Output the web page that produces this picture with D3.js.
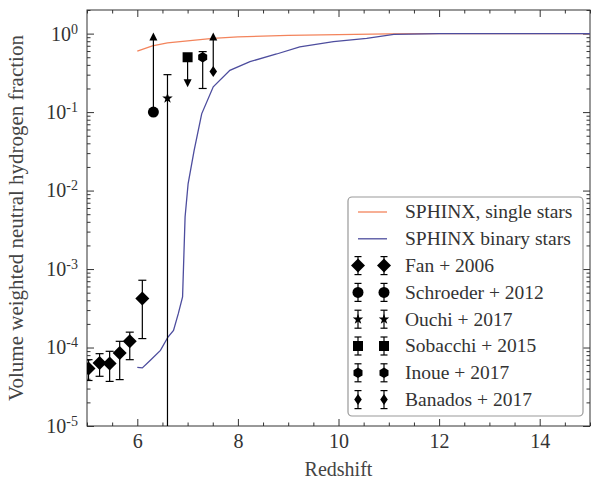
<!DOCTYPE html>
<html>
<head>
<meta charset="utf-8">
<script src="https://cdn.jsdelivr.net/npm/d3@7"></script>
<style>
  body { margin: 0; background: #fff; }
</style>
</head>
<body>
<div id="chart"></div>
<script>
// model curves
const singleZ = [6.0, 6.3, 6.6, 7.0, 7.5, 8.0, 9.0, 10.0, 11.0, 12.0, 13.0, 15.0];
const singleX = [0.60, 0.70, 0.76, 0.81, 0.87, 0.91, 0.95, 0.97, 0.99, 1.0, 1.0, 1.0];

const binaryZ = [6.0, 6.1, 6.26, 6.46, 6.61, 6.72, 6.815, 6.90, 6.95, 7.01, 7.13, 7.28, 7.51, 7.84, 8.24, 8.77, 9.23, 9.9, 10.56, 11.1, 12.0, 15.0];
const binaryX = [5.6e-5, 5.5e-5, 6.9e-5, 9.2e-5, 1.36e-4, 1.65e-4, 2.7e-4, 4.4e-4, 4.6e-3, 0.0122, 0.0325, 0.095, 0.21, 0.34, 0.44, 0.55, 0.68, 0.79, 0.87, 0.98, 1.0, 1.0];

// observations
const refNames = ['Fan + 2006', 'Schroeder + 2012', 'Ouchi + 2017', 'Sobacchi + 2015', 'Inoue + 2017', 'Banados + 2017'];
const refMarkers = ['D', 'o', '*', 's', 'h', 'd'];
const refZ  = [[5.03, 5.25, 5.45, 5.65, 5.85, 6.10], [6.32], [6.6], [7.0], [7.3], [7.51]];
const refX  = [[5.4e-5, 6.35e-5, 6.25e-5, 8.5e-5, 1.2e-4, 4.2e-4], [0.1], [0.15], [0.5], [0.5], [0.33]];
const refLo = [[3.8e-5, 4.3e-5, 3.7e-5, 3.9e-5, 7.0e-5, 1.3e-4], [null], [0], [null], [0.2], [null]];
const refHi = [[7.0e-5, 8.35e-5, 8.95e-5, 1.2e-4, 1.57e-4, 7.2e-4], [null], [0.30], [null], [0.59], [null]];
const refArrow = [null, 0.89, null, 0.24, null, 0.89]; // limits

const lineNames = ['SPHINX, single stars', 'SPHINX binary stars'];
const lineColors = ['#f3845c', '#4d4d9e'];

const xTicks = [6, 8, 10, 12, 14];
const yTicks = [1e-5, 1e-4, 1e-3, 1e-2, 1e-1, 1];

const FONT = '"Liberation Serif", "Times New Roman", serif';

const width = 592;
const height = 479;
const margin = {top: 10, right: 2, bottom: 53, left: 87};
const w = width - margin.left - margin.right;
const h = height - margin.top - margin.bottom;

const x = d3.scaleLinear().domain([5, 15]).range([0, w]);
const y = d3.scaleLog().domain([1e-5, 2]).range([h, 0]);
const yv = v => y(Math.max(v, 1e-7));

const xMinor = d3.range(5, 15.01, 0.5).filter(v => v % 2 !== 0);
let yMinor = [];
for (let e = -5; e <= 0; e++) for (let k = 2; k <= 9; k++) if (k * Math.pow(10, e) <= 2) yMinor.push(k * Math.pow(10, e));

const svg = d3.select('#chart').append('svg')
    .attr('width', width)
    .attr('height', height);

svg.append('defs').append('clipPath').attr('id', 'clip')
  .append('rect').attr('width', w).attr('height', h);

const g = svg.append('g').attr('transform', `translate(${margin.left},${margin.top})`);

// ticks, inward on all four sides
function tickAxes(axisFn, vals, size, pos) {
  const a = axisFn.tickValues(vals).tickSize(-size).tickFormat('');
  const sel = g.append('g').attr('transform', pos).call(a);
  sel.select('.domain').remove();
  sel.selectAll('line').attr('stroke', '#333');
  return sel;
}
tickAxes(d3.axisTop(x), xTicks, 7, 'translate(0,0)');
tickAxes(d3.axisTop(x), xMinor, 3.5, 'translate(0,0)');
tickAxes(d3.axisBottom(x), xMinor, 3.5, `translate(0,${h})`);
tickAxes(d3.axisRight(y), yTicks, 7, `translate(${w},0)`);
tickAxes(d3.axisRight(y), yMinor, 3.5, `translate(${w},0)`);
tickAxes(d3.axisLeft(y), yMinor, 3.5, 'translate(0,0)');

const xAxis = g.append('g').attr('transform', `translate(0,${h})`)
  .call(d3.axisBottom(x).tickValues(xTicks).tickSize(-7).tickPadding(8).tickFormat(d => d));
xAxis.select('.domain').remove();
xAxis.selectAll('line').attr('stroke', '#333');
xAxis.selectAll('text').attr('font-size', 20).attr('fill', '#333').style('font-family', FONT);

const yAxis = g.append('g')
  .call(d3.axisLeft(y).tickValues(yTicks).tickSize(-7).tickPadding(9).tickFormat(''));
yAxis.select('.domain').remove();
yAxis.selectAll('line').attr('stroke', '#333');
yAxis.selectAll('text').each(function(d) {
  const t = d3.select(this).attr('font-size', 20).attr('fill', '#333').style('font-family', FONT);
  t.append('tspan').text('10');
  t.append('tspan').attr('dy', '-7').attr('font-size', 14).text(Math.round(Math.log10(d)));
});

// frame
g.append('rect').attr('width', w).attr('height', h)
  .attr('fill', 'none').attr('stroke', '#333').attr('stroke-width', 1);

// axis labels
svg.append('text')
  .attr('x', margin.left + w / 2).attr('y', 476)
  .attr('text-anchor', 'middle').attr('font-size', 20).attr('fill', '#444')
  .style('font-family', FONT)
  .text('Redshift');
svg.append('text')
  .attr('transform', `translate(23,${margin.top + h / 2}) rotate(-90)`)
  .attr('text-anchor', 'middle').attr('font-size', 21).attr('fill', '#444')
  .style('font-family', FONT)
  .text('Volume weighted neutral hydrogen fraction');

// marker shapes
function markerPath(type) {
  const p = d3.path();
  if (type === 'D') { p.moveTo(0, -7); p.lineTo(7, 0); p.lineTo(0, 7); p.lineTo(-7, 0); p.closePath(); }
  else if (type === 'd') { p.moveTo(0, -5.5); p.lineTo(3.8, 0); p.lineTo(0, 5.5); p.lineTo(-3.8, 0); p.closePath(); }
  else if (type === 'o') { p.arc(0, 0, 5.5, 0, 2 * Math.PI); }
  else if (type === 's') { p.rect(-5, -5, 10, 10); }
  else if (type === 'h') { for (let i = 0; i < 6; i++) { const a = -Math.PI / 2 + i * Math.PI / 3; i ? p.lineTo(5.2 * Math.cos(a), 5.2 * Math.sin(a)) : p.moveTo(5.2 * Math.cos(a), 5.2 * Math.sin(a)); } p.closePath(); }
  else if (type === '*') { for (let i = 0; i < 10; i++) { const a = -Math.PI / 2 + i * Math.PI / 5; const r = i % 2 ? 2.2 : 5.5; i ? p.lineTo(r * Math.cos(a), r * Math.sin(a)) : p.moveTo(r * Math.cos(a), r * Math.sin(a)); } p.closePath(); }
  else if (type === '^') { p.moveTo(0, -5); p.lineTo(4, 3); p.lineTo(-4, 3); p.closePath(); }
  else if (type === 'v') { p.moveTo(0, 5); p.lineTo(4, -3); p.lineTo(-4, -3); p.closePath(); }
  return p.toString();
}

const plot = g.append('g').attr('clip-path', 'url(#clip)');

// curves
const line = d3.line().x(d => x(d[0])).y(d => y(d[1]));
[[singleZ, singleX], [binaryZ, binaryX]].forEach((s, i) => {
  plot.append('path')
    .datum(s[0].map((z, j) => [z, s[1][j]]))
    .attr('d', line)
    .attr('fill', 'none')
    .attr('stroke', lineColors[i])
    .attr('stroke-width', 1.3);
});

// observations with error bars / limits
refNames.forEach((name, i) => {
  refZ[i].forEach((z, j) => {
    const px = x(z), py = y(refX[i][j]);
    if (refLo[i][j] !== null) {
      plot.append('line').attr('x1', px).attr('x2', px)
        .attr('y1', yv(refLo[i][j])).attr('y2', yv(refHi[i][j]))
        .attr('stroke', '#000').attr('stroke-width', 1.2);
      [refLo[i][j], refHi[i][j]].forEach(v => {
        plot.append('line').attr('x1', px - 4).attr('x2', px + 4)
          .attr('y1', yv(v)).attr('y2', yv(v))
          .attr('stroke', '#000').attr('stroke-width', 1.2);
      });
    }
    if (refArrow[i] !== null) {
      const ay = y(refArrow[i]);
      plot.append('line').attr('x1', px).attr('x2', px).attr('y1', py).attr('y2', ay)
        .attr('stroke', '#000').attr('stroke-width', 1.2);
      plot.append('path').attr('d', markerPath(refArrow[i] > refX[i][j] ? '^' : 'v'))
        .attr('transform', `translate(${px},${ay})`).attr('fill', '#000');
    }
    plot.append('path').attr('d', markerPath(refMarkers[i]))
      .attr('transform', `translate(${px},${py})`).attr('fill', '#000');
  });
});

// legend
const leg = svg.append('g');
leg.append('rect')
  .attr('x', 348).attr('y', 197).attr('width', 235).attr('height', 219).attr('rx', 4)
  .attr('fill', '#fff').attr('stroke', '#999').attr('stroke-width', 1.2);
const rowY = d3.range(8).map(k => 212 + k * 26.8);
lineNames.forEach((name, i) => {
  leg.append('line').attr('x1', 358).attr('x2', 387).attr('y1', rowY[i]).attr('y2', rowY[i])
    .attr('stroke', lineColors[i]).attr('stroke-width', 1.3);
});
refNames.forEach((name, i) => {
  const ry = rowY[i + 2];
  [358, 384].forEach(mx => {
    leg.append('line').attr('x1', mx).attr('x2', mx).attr('y1', ry - 9).attr('y2', ry + 9)
      .attr('stroke', '#000').attr('stroke-width', 1.2);
    [ry - 9, ry + 9].forEach(cy => leg.append('line')
      .attr('x1', mx - 3.5).attr('x2', mx + 3.5).attr('y1', cy).attr('y2', cy)
      .attr('stroke', '#000').attr('stroke-width', 1.2));
    leg.append('path').attr('d', markerPath(refMarkers[i]))
      .attr('transform', `translate(${mx},${ry})`).attr('fill', '#000');
  });
});
lineNames.concat(refNames).forEach((name, k) => {
  leg.append('text').attr('x', 405).attr('y', rowY[k]).attr('dy', '0.33em')
    .attr('font-size', 19.5).attr('fill', '#333').style('font-family', FONT).text(name);
});
</script>
</body>
</html>
